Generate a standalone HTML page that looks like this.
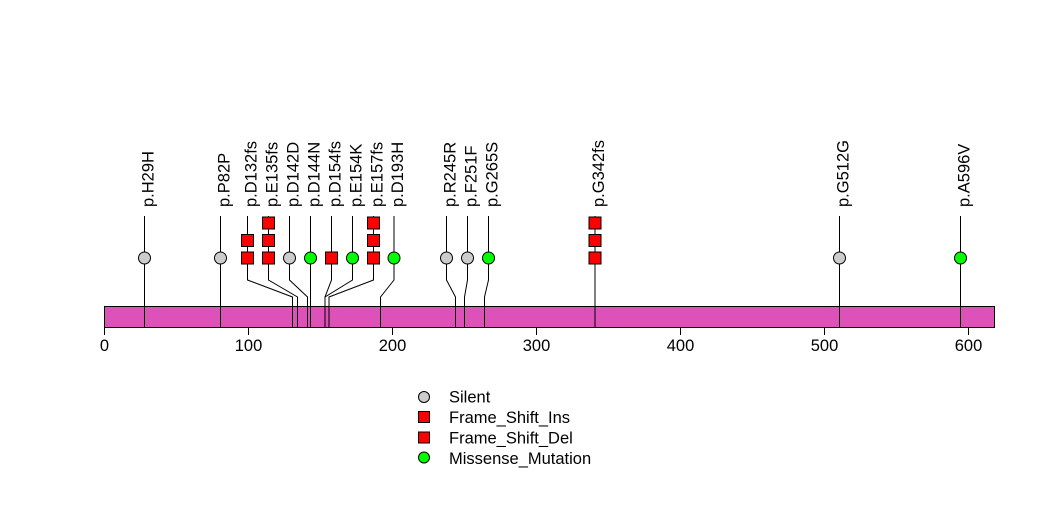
<!DOCTYPE html>
<html><head><meta charset="utf-8"><style>
html,body{margin:0;padding:0;background:#fff;}
svg{display:block;}
text{font-family:"Liberation Sans",sans-serif;font-size:16.5px;fill:#000;}
</style></head><body>
<svg width="1047" height="524" viewBox="0 0 1047 524" xmlns="http://www.w3.org/2000/svg">
<rect width="1047" height="524" fill="#fff"/>
<!-- bar -->
<rect x="104.5" y="306.5" width="890" height="21" fill="#DC52B8" stroke="#000" stroke-width="1"/>
<!-- axis -->
<g stroke="#000" stroke-width="1">
<line x1="104.5" y1="327.5" x2="968.5" y2="327.5"/>
<line x1="104.5" y1="327.5" x2="104.5" y2="335"/>
<line x1="248.5" y1="327.5" x2="248.5" y2="335"/>
<line x1="392.5" y1="327.5" x2="392.5" y2="335"/>
<line x1="536.5" y1="327.5" x2="536.5" y2="335"/>
<line x1="680.5" y1="327.5" x2="680.5" y2="335"/>
<line x1="824.5" y1="327.5" x2="824.5" y2="335"/>
<line x1="968.5" y1="327.5" x2="968.5" y2="335"/>
</g>
<g text-anchor="middle">
<text x="104.5" y="351">0</text>
<text x="248.5" y="351">100</text>
<text x="392.5" y="351">200</text>
<text x="536.5" y="351">300</text>
<text x="680.5" y="351">400</text>
<text x="824.5" y="351">500</text>
<text x="968.5" y="351">600</text>
</g>
<!-- connector lines -->
<g stroke="#000" stroke-width="1" fill="none">
<polyline points="144.5,216 144.5,327"/>
<polyline points="220.5,216 220.5,327"/>
<polyline points="247.5,216 247.5,280 292.5,297 292.5,327"/>
<polyline points="268.5,216 268.5,280 297.5,297 297.5,327"/>
<polyline points="289.5,216 289.5,280 307.5,297 307.5,327"/>
<polyline points="310.5,216 310.5,280 310.5,297 310.5,327"/>
<polyline points="331.5,216 331.5,280 325,297 325,327"/>
<polyline points="352.5,216 352.5,280 325,297 325,327"/>
<polyline points="373.5,216 373.5,280 329,297 329,327"/>
<polyline points="394,216 394,280 380.5,297 380.5,327"/>
<polyline points="446.5,216 446.5,280 455.5,297 455.5,327"/>
<polyline points="467.5,216 467.5,280 464.5,297 464.5,327"/>
<polyline points="488.5,216 488.5,280 484.5,297 484.5,327"/>
<polyline points="595,216 595,327"/>
<polyline points="839.5,216 839.5,327"/>
<polyline points="960.5,216 960.5,327"/>
</g>
<!-- markers -->
<g stroke="#000" stroke-width="1">
<circle cx="144.5" cy="258" r="6" fill="#CCCCCC"/>
<circle cx="220.5" cy="258" r="6" fill="#CCCCCC"/>
<rect x="241.5" y="252" width="12" height="12" fill="#FF0000"/>
<rect x="241.5" y="234.5" width="12" height="12" fill="#FF0000"/>
<rect x="262.5" y="252" width="12" height="12" fill="#FF0000"/>
<rect x="262.5" y="234.5" width="12" height="12" fill="#FF0000"/>
<rect x="262.5" y="217" width="12" height="12" fill="#FF0000"/>
<circle cx="289.5" cy="258" r="6" fill="#CCCCCC"/>
<circle cx="310.5" cy="258" r="6" fill="#00FF00"/>
<rect x="325.5" y="252" width="12" height="12" fill="#FF0000"/>
<circle cx="352.5" cy="258" r="6" fill="#00FF00"/>
<rect x="367.5" y="252" width="12" height="12" fill="#FF0000"/>
<rect x="367.5" y="234.5" width="12" height="12" fill="#FF0000"/>
<rect x="367.5" y="217" width="12" height="12" fill="#FF0000"/>
<circle cx="394" cy="258" r="6" fill="#00FF00"/>
<circle cx="446.5" cy="258" r="6" fill="#CCCCCC"/>
<circle cx="467.5" cy="258" r="6" fill="#CCCCCC"/>
<circle cx="488.5" cy="258" r="6" fill="#00FF00"/>
<rect x="589" y="252" width="12" height="12" fill="#FF0000"/>
<rect x="589" y="234.5" width="12" height="12" fill="#FF0000"/>
<rect x="589" y="217" width="12" height="12" fill="#FF0000"/>
<circle cx="839.5" cy="258" r="6" fill="#CCCCCC"/>
<circle cx="960.5" cy="258" r="6" fill="#00FF00"/>
</g>
<!-- labels -->
<g>
<text transform="translate(153.5,207) rotate(-90)">p.H29H</text>
<text transform="translate(229.5,207) rotate(-90)">p.P82P</text>
<text transform="translate(256.5,207) rotate(-90)">p.D132fs</text>
<text transform="translate(277.5,207) rotate(-90)">p.E135fs</text>
<text transform="translate(298.5,207) rotate(-90)">p.D142D</text>
<text transform="translate(319.5,207) rotate(-90)">p.D144N</text>
<text transform="translate(340.5,207) rotate(-90)">p.D154fs</text>
<text transform="translate(361.5,207) rotate(-90)">p.E154K</text>
<text transform="translate(382.5,207) rotate(-90)">p.E157fs</text>
<text transform="translate(403,207) rotate(-90)">p.D193H</text>
<text transform="translate(455.5,207) rotate(-90)">p.R245R</text>
<text transform="translate(476.5,207) rotate(-90)">p.F251F</text>
<text transform="translate(497.5,207) rotate(-90)">p.G265S</text>
<text transform="translate(604,207) rotate(-90)">p.G342fs</text>
<text transform="translate(848.5,207) rotate(-90)">p.G512G</text>
<text transform="translate(969.5,207) rotate(-90)">p.A596V</text>
</g>
<!-- legend -->
<g stroke="#000" stroke-width="1">
<circle cx="424" cy="397" r="5.5" fill="#CCCCCC"/>
<rect x="418.5" y="411.5" width="11" height="11" fill="#FF0000"/>
<rect x="418.5" y="432" width="11" height="11" fill="#FF0000"/>
<circle cx="424" cy="457.5" r="5.5" fill="#00FF00"/>
</g>
<g>
<text x="449" y="402.5">Silent</text>
<text x="449" y="423">Frame_Shift_Ins</text>
<text x="449" y="443.5">Frame_Shift_Del</text>
<text x="449" y="464">Missense_Mutation</text>
</g>
</svg>
</body></html>
